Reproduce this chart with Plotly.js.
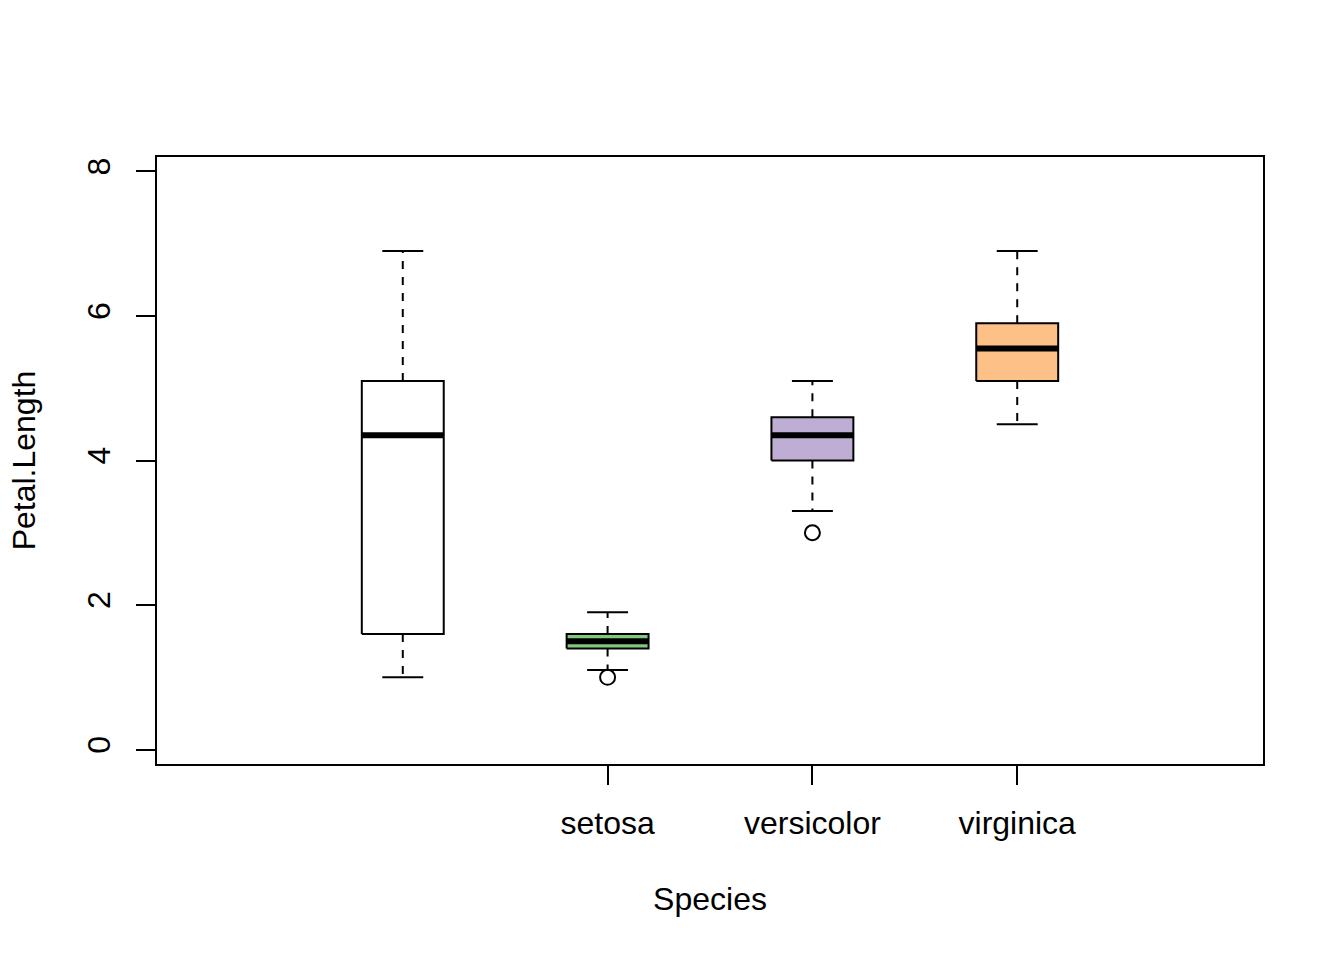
<!DOCTYPE html>
<html>
<head>
<meta charset="utf-8">
<script src="https://cdn.plot.ly/plotly-3.0.1.min.js"></script>
<style>
  body { margin: 0; background: #fff; }
  #plot { width: 1344px; height: 960px; }
</style>
</head>
<body>
<div id="plot"></div>
<script>
// box positions on the x axis (1 = all species pooled, no tick label)
let positions = [1, 2, 3, 4];
let tickPositions = [2, 3, 4];
let tickLabels = ["setosa", "versicolor", "virginica"];

// five-number summaries
let lowWhisker = [1.0, 1.1, 3.3, 4.5];
let lowerHinge = [1.6, 1.4, 4.0, 5.1];
let medians = [4.35, 1.5, 4.35, 5.55];
let upperHinge = [5.1, 1.6, 4.6, 5.9];
let highWhisker = [6.9, 1.9, 5.1, 6.9];
let outliers = [[], [1.0], [3.0], []];

// fill colours (RColorBrewer "Accent")
let fills = ["#FFFFFF", "#7FC97F", "#BEAED4", "#FDC086"];

let halfBox = 0.2;   // half box width in x units
let halfCap = 0.1;   // half staple width

let traces = [];

for (let i = 0; i < positions.length; i++) {
    let p = positions[i];

    // dashed whiskers
    traces.push({
        x: [p, p, null, p, p],
        y: [upperHinge[i], highWhisker[i], null, lowerHinge[i], lowWhisker[i]],
        mode: "lines",
        line: { color: "black", width: 2, dash: "8px,8px" },
        hoverinfo: "skip"
    });

    // staples
    traces.push({
        x: [p - halfCap, p + halfCap, null, p - halfCap, p + halfCap],
        y: [highWhisker[i], highWhisker[i], null, lowWhisker[i], lowWhisker[i]],
        mode: "lines",
        line: { color: "black", width: 2 },
        hoverinfo: "skip"
    });

    // box
    traces.push({
        x: [p - halfBox, p + halfBox, p + halfBox, p - halfBox, p - halfBox],
        y: [lowerHinge[i], lowerHinge[i], upperHinge[i], upperHinge[i], lowerHinge[i]],
        mode: "lines",
        fill: "toself",
        fillcolor: fills[i],
        line: { color: "black", width: 2 },
        hoverinfo: "skip"
    });

    // median
    traces.push({
        x: [p - halfBox, p + halfBox],
        y: [medians[i], medians[i]],
        mode: "lines",
        line: { color: "black", width: 6 },
        hoverinfo: "skip"
    });

    // outliers
    if (outliers[i].length > 0) {
        traces.push({
            x: outliers[i].map(() => p),
            y: outliers[i],
            mode: "markers",
            marker: { symbol: "circle-open", size: 15, color: "black", line: { width: 2, color: "black" } },
            hoverinfo: "skip"
        });
    }
}

let font = { family: "Liberation Sans, Arial, Helvetica, sans-serif", size: 32, color: "black" };

let layout = {
    width: 1344,
    height: 960,
    showlegend: false,
    paper_bgcolor: "white",
    plot_bgcolor: "white",
    font: font,
    margin: { l: 157, r: 81, t: 157, b: 196, pad: 0 },
    xaxis: {
        range: [-0.2, 5.2],
        tickvals: tickPositions,
        ticktext: tickLabels,
        ticks: "outside",
        ticklen: 19,
        tickwidth: 2,
        tickcolor: "black",
        showgrid: false,
        zeroline: false,
        showline: true,
        mirror: true,
        linecolor: "black",
        linewidth: 2,
        tickfont: font,
        ticklabelstandoff: 11,
        title: { text: "Species", font: font, standoff: 47 }
    },
    yaxis: {
        range: [-0.2, 8.2],
        tickvals: [0, 2, 4, 6, 8],
        ticks: "outside",
        ticklen: 19,
        tickwidth: 2,
        tickcolor: "black",
        tickangle: -90,
        showgrid: false,
        zeroline: false,
        showline: true,
        mirror: true,
        linecolor: "black",
        linewidth: 2,
        tickfont: font,
        ticklabelstandoff: 13,
        title: { text: "Petal.Length", font: font, standoff: 36 }
    }
};

Plotly.newPlot("plot", traces, layout, { staticPlot: true });
</script>
</body>
</html>
